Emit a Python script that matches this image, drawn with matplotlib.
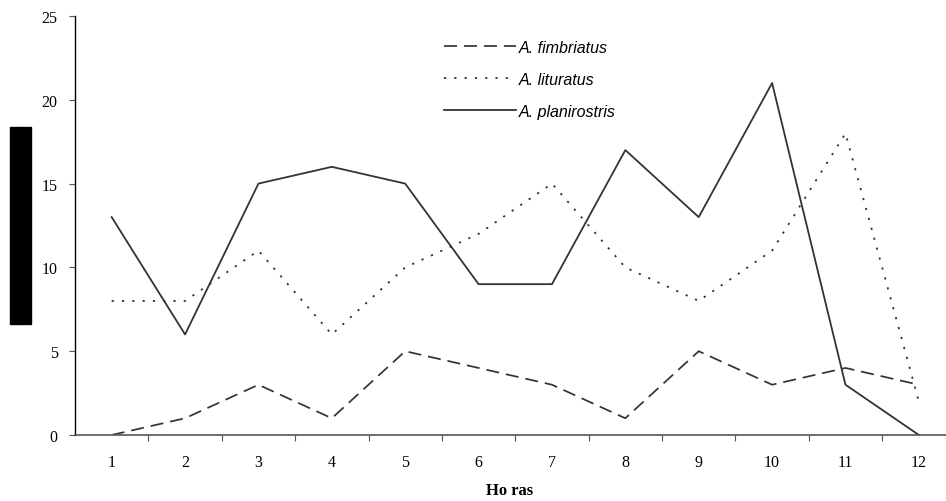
import matplotlib
matplotlib.use("Agg")
import matplotlib.pyplot as plt
from matplotlib.patches import Rectangle

horas = [1, 2, 3, 4, 5, 6, 7, 8, 9, 10, 11, 12]
fimbriatus = [0, 1, 3, 1, 5, 4, 3, 1, 5, 3, 4, 3]
lituratus = [8, 8, 11, 6, 10, 12, 15, 10, 8, 11, 18, 2]
planirostris = [13, 6, 15, 16, 15, 9, 9, 17, 13, 21, 3, 0]
series_labels = ["A. fimbriatus", "A. lituratus", "A. planirostris"]
y_ticks = [0, 5, 10, 15, 20, 25]
x_label = "Ho ras"

W, H = 946, 502
fig = plt.figure(figsize=(W / 100, H / 100), dpi=100)
ax = fig.add_axes([75 / W, (H - 436) / H, (W - 75) / W, (436 - 17) / H])

col = "#333333"
l1, = ax.plot(horas, fimbriatus, color=col, lw=1.25, dashes=(7.5, 4), label=series_labels[0])
l2, = ax.plot(horas, lituratus, color=col, lw=1.3, dashes=(1.2, 4.5), label=series_labels[1])
l3, = ax.plot(horas, planirostris, color=col, lw=1.3, label=series_labels[2])

ax.set_xlim(0.5, 12.37)
ax.set_ylim(0, 25)
for s in ["top", "right"]:
    ax.spines[s].set_visible(False)
ax.spines["left"].set_color("black")
ax.spines["left"].set_linewidth(1.0)
ax.spines["bottom"].set_color("#555555")
ax.spines["bottom"].set_linewidth(1.2)

serif = "Liberation Serif"
ax.set_yticks(y_ticks)
ax.set_yticklabels([str(v) for v in y_ticks], family=serif, fontsize=11.5)
ax.tick_params(axis="y", direction="out", length=4.5, width=0.8, color="#555555", pad=8)

ax.set_xticks([i + 0.5 for i in horas[:-1]])
ax.set_xticklabels([])
ax.tick_params(axis="x", which="major", direction="out", length=4.5, width=0.8, color="#555555")
ax.set_xticks(horas, minor=True)
ax.set_xticklabels([str(v) for v in horas], minor=True, family=serif, fontsize=11.5)
ax.tick_params(axis="x", which="minor", length=0, pad=14)

fig.text(510 / W, 1 - 491 / H, x_label, family=serif, fontweight="bold",
         fontsize=12, ha="center", va="center")

fig.patches.append(Rectangle((10 / W, 1 - 325 / H), 21 / W, 197 / H,
                             transform=fig.transFigure, color="black"))

leg = ax.legend(handles=[l1, l2, l3], loc="upper left",
                bbox_to_anchor=(436 / W, 1 - 33 / H), bbox_transform=fig.transFigure,
                frameon=False, borderpad=0, handlelength=4.5, handletextpad=0.2,
                labelspacing=1.05,
                prop={"family": "Liberation Sans", "style": "italic", "size": 11.5})

fig.savefig("out.png", dpi=100)
